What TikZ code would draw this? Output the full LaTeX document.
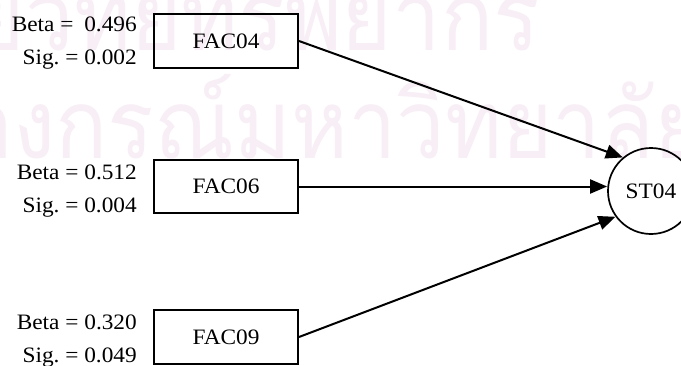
\documentclass[tikz,border=0pt]{standalone}
\usepackage{fontspec}
\setmainfont{Liberation Serif}[FakeStretch=1.06]
\newfontfamily\thaifont[Script=Thai,FakeStretch=0.9]{Loma}
\usetikzlibrary{arrows.meta}
\definecolor{wmark}{RGB}{248,238,245}
\frenchspacing
\begin{document}
\begin{tikzpicture}[x=1pt,y=-1pt,
  every node/.style={font=\fontsize{22}{24}\selectfont},
  factor/.style={draw, line width=2pt, minimum width=144pt, inner sep=0pt},
  target/.style={draw, circle, line width=1.7pt, minimum size=86pt, inner sep=0pt},
  stat/.style={anchor=base east, inner sep=0pt},
  wm/.style={text=wmark, inner sep=0pt, anchor=base east, font=\thaifont\fontsize{96}{100}\selectfont},
  arr/.style={line width=2pt, -{Triangle[length=17pt,width=14pt]}}]
\useasboundingbox (0,0) rectangle (681,365);

% background watermark
\begin{scope}
  \clip (0,0) rectangle (681,365);
  \node[wm] (wm1) at (540,50) {ศูนย์วิทยทรัพยากร};
  \node[wm] (wm2) at (705,158) {จุฬาลงกรณ์มหาวิทยาลัย};
\end{scope}

% factor boxes
\node[factor, minimum height=54pt] (f04) at (226,41) {FAC04};
\node[factor, minimum height=53pt] (f06) at (226,186.5) {FAC06};
\node[factor, minimum height=54pt] (f09) at (226,337) {FAC09};

% coefficients
\node[stat] (b04) at (137,31) {Beta = \hspace{5pt}0.496};
\node[stat] (s04) at (137,64) {Sig. = 0.002};
\node[stat] (b06) at (137,179) {Beta = 0.512};
\node[stat] (s06) at (137,212) {Sig. = 0.004};
\node[stat] (b09) at (137,329) {Beta = 0.320};
\node[stat] (s09) at (137,362) {Sig. = 0.049};

% dependent variable
\node[target] (st) at (651,191) {ST04};

% paths
\draw[arr] (f04.east) -- (st.130);
\draw[arr] (f06.east) -- (st.west |- f06.east);
\draw[arr] (f09.east) -- (st.216);
\end{tikzpicture}
\end{document}
